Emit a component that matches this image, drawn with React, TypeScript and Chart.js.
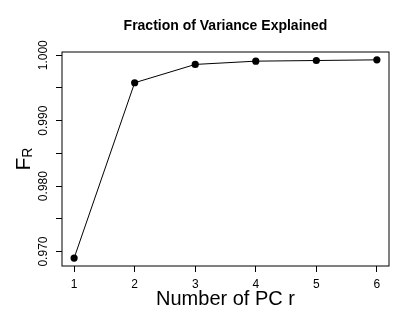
import React, { useEffect, useRef } from "react";
import { Chart, registerables } from "chart.js";

Chart.register(...registerables);

const componentNumbers = [1, 2, 3, 4, 5, 6];
const fractionExplained = [0.969, 0.9958, 0.9986, 0.9991, 0.9992, 0.9993];
const xTickValues = [1, 2, 3, 4, 5, 6];
const yTickValues = [0.97, 0.975, 0.98, 0.985, 0.99, 0.995, 1.0];
const yLabelledTicks = ["0.970", "0.980", "0.990", "1.000"];
const titleText = "Fraction of Variance Explained";
const xTitleText = "Number of PC r";
const yTitleMain = "F";
const yTitleSub = "R";

const FONT = "'Liberation Sans', Arial, Helvetica, sans-serif";

const textPlugin = {
  id: "rTextAndBox",
  afterDraw(chart: any) {
    const { ctx, chartArea: a } = chart;
    ctx.save();
    // box
    ctx.strokeStyle = "#000";
    ctx.lineWidth = 1;
    ctx.strokeRect(a.left, a.top, a.right - a.left, a.bottom - a.top);
    const cx = (a.left + a.right) / 2;
    const cy = (a.top + a.bottom) / 2;
    ctx.fillStyle = "#000";
    // title
    ctx.font = `bold 14px ${FONT}`;
    ctx.textAlign = "center";
    ctx.textBaseline = "alphabetic";
    ctx.fillText(titleText, cx, 30);
    // x title
    ctx.font = `20px ${FONT}`;
    ctx.fillText(xTitleText, cx, 304.5);
    // y title rotated
    ctx.translate(29.5, cy);
    ctx.rotate(-Math.PI / 2);
    ctx.font = `21px ${FONT}`;
    const wMain = ctx.measureText(yTitleMain).width;
    ctx.font = `14px ${FONT}`;
    const wSub = ctx.measureText(yTitleSub).width;
    const total = wMain + wSub;
    ctx.textAlign = "left";
    ctx.font = `21px ${FONT}`;
    ctx.fillText(yTitleMain, -total / 2, 0);
    ctx.font = `14px ${FONT}`;
    ctx.fillText(yTitleSub, -total / 2 + wMain, 2);
    ctx.restore();
  },
};

export default function App() {
  const ref = useRef<HTMLCanvasElement | null>(null);
  useEffect(() => {
    if (!ref.current) return;
    const chart = new Chart(ref.current, {
      type: "line",
      data: {
        datasets: [
          {
            data: componentNumbers.map((x, i) => ({ x, y: fractionExplained[i] })),
            borderColor: "#000",
            borderWidth: 1,
            backgroundColor: "#000",
            pointBackgroundColor: "#000",
            pointBorderWidth: 0,
            pointRadius: 3.6,
            fill: false,
            tension: 0,
          },
        ],
      },
      plugins: [textPlugin],
      options: {
        responsive: false,
        animation: false,
        devicePixelRatio: 1,
        layout: { padding: { top: 52, right: 26, left: 0, bottom: 0 } },
        plugins: { legend: { display: false }, tooltip: { enabled: false }, title: { display: false } },
        scales: {
          x: {
            type: "linear",
            min: 0.8,
            max: 6.2,
            afterBuildTicks: (scale: any) => {
              scale.ticks = xTickValues.map((v) => ({ value: v }));
            },
            afterFit: (scale: any) => {
              scale.height = 63;
            },
            grid: { drawOnChartArea: false, drawTicks: true, tickLength: 6, color: "#000" },
            border: { display: false },
            ticks: {
              color: "#000",
              font: { family: FONT, size: 12 },
              padding: 5,
              maxRotation: 0,
              minRotation: 0,
              callback: (v: any) => String(v),
            },
          },
          y: {
            type: "linear",
            min: 0.96779,
            max: 1.0005,
            afterBuildTicks: (scale: any) => {
              scale.ticks = yTickValues.map((v) => ({ value: v }));
            },
            afterFit: (scale: any) => {
              scale.width = 62;
            },
            grid: { drawOnChartArea: false, drawTicks: true, tickLength: 6, color: "#000" },
            border: { display: false },
            ticks: {
              color: "#000",
              font: { family: FONT, size: 12 },
              padding: -3,
              minRotation: 90,
              maxRotation: 90,
              crossAlign: "center",
              callback: (v: any) => {
                const s = Number(v).toFixed(3);
                return yLabelledTicks.includes(s) ? s : "";
              },
            },
          },
        },
      },
    } as any);
    return () => chart.destroy();
  }, []);
  return (
    <div style={{ position: "absolute", left: 0, top: 0, width: 415, height: 329, background: "#fff" }}>
      <canvas ref={ref} width={415} height={329} style={{ display: "block" }} />
    </div>
  );
}
